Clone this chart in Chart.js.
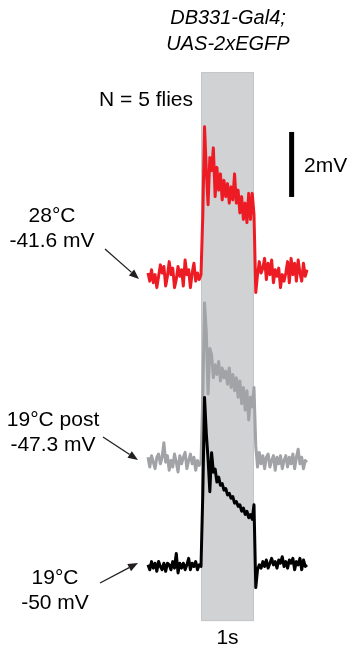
<!DOCTYPE html>
<html>
<head>
<meta charset="utf-8">
<script src="https://cdn.jsdelivr.net/npm/chart.js@4"></script>
<style>
  body { margin: 0; background: #fff; }
  canvas { display: block; }
</style>
</head>
<body>
<canvas id="trace-chart" width="348" height="650"></canvas>
<script>
// sampling: 1/30 s steps from -1 s to +2 s (light pulse 0..1 s)
var sampleStep = 1 / 30;
var startTime = -1;

// membrane potential change (mV) from resting level, one value per sample
var warm28 = [
  0.05,-0.20,0.15,-0.25,0.00,-0.40,-0.05,0.30,0.05,0.25,
  -0.35,-0.05,0.40,0.00,0.20,-0.40,-0.15,0.25,-0.05,0.15,
  -0.35,0.45,0.00,0.15,-0.40,0.05,0.35,-0.20,0.05,-0.15,
  0.00,1.80,4.55,3.20,2.15,3.60,3.20,3.90,2.40,3.30,
  2.60,3.10,2.30,2.90,2.40,2.80,2.20,2.70,2.30,3.10,
  2.20,2.60,1.90,2.40,1.70,2.20,1.60,2.50,1.70,2.50,
  1.85,
  -0.55,0.00,0.40,0.05,0.20,0.50,-0.15,0.35,0.00,0.45,
  -0.25,0.15,-0.05,0.20,-0.40,0.00,-0.20,0.05,0.40,-0.25,
  0.50,0.00,0.35,-0.20,0.45,0.05,-0.20,0.35,-0.05,0.15
];
var coolPost = [
  0.15,-0.15,0.20,0.00,-0.20,0.15,0.25,-0.05,0.15,0.60,
  0.00,0.20,-0.25,0.05,-0.15,0.25,0.00,-0.30,0.20,-0.05,
  0.15,0.30,-0.20,0.05,0.25,-0.05,0.15,-0.25,0.05,-0.10,
  0.00,2.00,4.90,4.00,2.10,3.50,3.30,2.60,3.00,2.70,
  3.10,2.50,2.90,2.60,2.80,2.40,2.90,2.30,2.70,2.20,
  2.60,2.00,2.50,1.80,2.30,1.60,2.20,1.30,2.00,1.70,
  2.30,
  0.50,-0.15,0.30,-0.05,0.20,-0.20,0.15,0.25,-0.15,0.05,
  0.20,-0.25,0.15,-0.05,0.20,-0.20,0.05,0.20,-0.15,0.15,
  -0.05,0.25,-0.20,0.15,0.40,-0.05,0.15,-0.20,0.05,0.00
];
var cool19 = [
  0.05,-0.10,0.15,-0.05,0.10,-0.15,0.15,0.00,-0.10,0.10,
  -0.15,0.10,0.05,-0.10,0.15,-0.05,0.40,-0.20,0.10,-0.05,
  0.10,-0.10,0.05,0.25,-0.10,0.10,0.00,0.15,-0.10,0.05,
  0.00,2.20,5.20,4.10,3.30,2.30,3.50,2.90,3.00,2.60,
  2.75,2.50,2.55,2.35,2.40,2.20,2.25,2.10,2.15,1.95,
  2.00,1.85,1.90,1.70,1.80,1.60,1.70,1.50,1.60,1.45,
  1.90,
  -0.65,-0.10,0.05,-0.05,0.15,0.00,0.20,-0.05,0.10,0.25,
  0.05,0.15,-0.05,0.20,0.10,0.30,0.00,0.15,-0.05,0.20,
  0.10,0.25,-0.10,0.15,0.05,0.25,-0.10,0.20,0.00,0.05
];

var traceLabels = [['28°C', '-41.6 mV'], ['19°C post', '-47.3 mV'], ['19°C', '-50 mV']];
var traceColors = ['#ed1c24', '#a2a3a6', '#000000'];
var traceOffsets = [11.55, 5.78, 2.57];   // vertical stacking in mV
var pulse = [0, 1];                      // light on, seconds
var scaleBarMv = 2;

function toPoints(values, offset) {
  return values.map(function(v, i) {
    return { x: startTime + i * sampleStep, y: v + offset };
  });
}

var decorations = {
  id: 'decorations',
  beforeDatasetsDraw: function(chart) {
    var ctx = chart.ctx, xs = chart.scales.x, ys = chart.scales.y;
    var x0 = xs.getPixelForValue(pulse[0]), x1 = xs.getPixelForValue(pulse[1]);
    var top = ys.getPixelForValue(17.78), bottom = ys.getPixelForValue(0.89);
    ctx.save();
    ctx.fillStyle = '#d1d2d4';
    ctx.fillRect(x0, top, x1 - x0, bottom - top);
    ctx.strokeStyle = '#c4c5c7';
    ctx.lineWidth = 1;
    ctx.strokeRect(x0 + 0.5, top + 0.5, x1 - x0 - 1, bottom - top - 1);
    ctx.restore();
  },
  afterDatasetsDraw: function(chart) {
    var ctx = chart.ctx, xs = chart.scales.x, ys = chart.scales.y;
    ctx.save();
    ctx.fillStyle = '#000';
    ctx.textAlign = 'center';
    ctx.textBaseline = 'middle';

    ctx.font = 'italic 20px "Liberation Sans", Arial, sans-serif';
    ctx.fillText('DB331-Gal4;', 228, 18);
    ctx.fillText('UAS-2xEGFP', 228, 44);

    ctx.font = '21px "Liberation Sans", Arial, sans-serif';
    ctx.textAlign = 'right';
    ctx.fillText('N = 5 flies', 193, 100);

    ctx.textAlign = 'center';
    ctx.fillText('1s', xs.getPixelForValue(0.5), 638);

    // scale bar
    var bx = xs.getPixelForValue(1.71);
    var by0 = ys.getPixelForValue(13.94), by1 = ys.getPixelForValue(13.94 + scaleBarMv);
    ctx.fillRect(bx - 2.5, by1, 5, by0 - by1);
    ctx.textAlign = 'left';
    ctx.fillText(scaleBarMv + 'mV', 304, 166);

    // trace labels + arrows
    ctx.textAlign = 'center';
    var labelY = [[216, 241], [420, 445], [578, 603]];
    var labelX = [52, 53, 55];
    traceLabels.forEach(function(lines, i) {
      ctx.fillText(lines[0], labelX[i], labelY[i][0]);
      ctx.fillText(lines[1], labelX[i], labelY[i][1]);
    });
    arrow(ctx, 105, 249, 139, 279);
    arrow(ctx, 103, 437, 138, 460);
    arrow(ctx, 100, 583, 138, 563);
    ctx.restore();
  }
};

function arrow(ctx, x1, y1, x2, y2) {
  var a = Math.atan2(y2 - y1, x2 - x1), len = 10, w = 4;
  ctx.strokeStyle = '#231f20';
  ctx.fillStyle = '#231f20';
  ctx.lineWidth = 1.3;
  ctx.beginPath();
  ctx.moveTo(x1, y1);
  ctx.lineTo(x2 - len * Math.cos(a), y2 - len * Math.sin(a));
  ctx.stroke();
  ctx.beginPath();
  ctx.moveTo(x2, y2);
  ctx.lineTo(x2 - len * Math.cos(a) + w * Math.sin(a), y2 - len * Math.sin(a) - w * Math.cos(a));
  ctx.lineTo(x2 - len * Math.cos(a) - w * Math.sin(a), y2 - len * Math.sin(a) + w * Math.cos(a));
  ctx.closePath();
  ctx.fill();
}

var series = [warm28, coolPost, cool19];
var ctx = document.getElementById('trace-chart').getContext('2d');
var traceChart = new Chart(ctx, {
  type: 'line',
  data: {
    datasets: series.map(function(values, i) {
      return {
        label: traceLabels[i].join(' '),
        data: toPoints(values, traceOffsets[i]),
        borderColor: traceColors[i],
        borderWidth: 3,
        borderJoinStyle: 'round',
        pointRadius: 0,
        tension: 0,
        fill: false,
        order: 2 - i
      };
    })
  },
  options: {
    responsive: false,
    animation: false,
    layout: { padding: 0 },
    plugins: { legend: { display: false }, tooltip: { enabled: false } },
    scales: {
      x: { type: 'linear', display: false, min: -201 / 53, max: 147 / 53 },
      y: { type: 'linear', display: false, min: 0, max: 20 }
    }
  },
  plugins: [decorations]
});
</script>
</body>
</html>
